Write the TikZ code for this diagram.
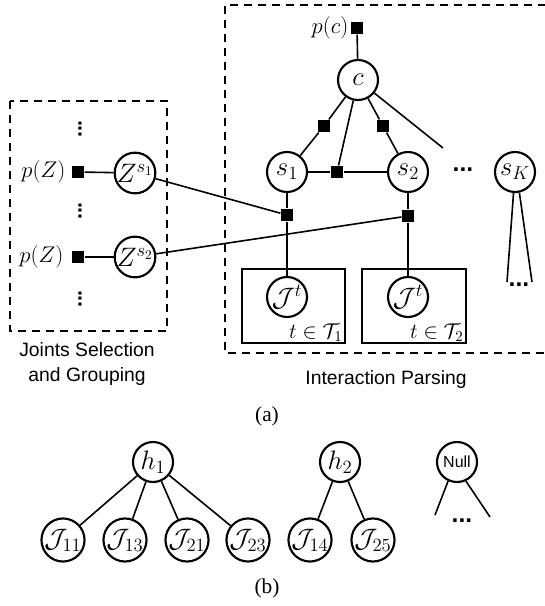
\RequirePackage{fix-cm}
\documentclass[tikz,border=0pt]{standalone}
\usepackage{fontspec}
\newfontfamily\sansf{Liberation Sans}
\newfontfamily\capf{Liberation Serif}
\newcommand\mfont{\fontsize{17}{20}\selectfont}
\newcommand\cfont{\fontsize{20}{23}\selectfont}
\newcommand\pfont{\fontsize{16}{19}\selectfont}
\newcommand\dotsfont{\sansf\bfseries\fontsize{18.5}{22}\selectfont}
\newcommand\vdotsfont{\sansf\bfseries\fontsize{16}{18}\selectfont}
\tikzset{
  var/.style={circle, draw, line width=1.6pt, minimum size=30pt, inner sep=0pt, font=\cfont},
  fac/.style={rectangle, fill=black, minimum size=9.5pt, inner sep=0pt},
  edge/.style={line width=1.2pt},
  dbox/.style={line width=1.2pt, dash pattern=on 6pt off 4.5pt},
  plate/.style={line width=1pt},
  lab/.style={font=\mfont, inner sep=1pt},
  sanslab/.style={font=\sansf\fontsize{14.5}{16}\selectfont, align=center, inner sep=0pt},
  caplab/.style={font=\capf\fontsize{16}{18}\selectfont, inner sep=0pt},
  dotsnode/.style={font=\dotsfont, inner sep=0pt},
  vdotsnode/.style={font=\vdotsfont, inner sep=0pt, rotate=90},
}
\begin{document}
\begin{tikzpicture}[x=0.75pt,y=-0.75pt]
\useasboundingbox (0,0) rectangle (544,606);
% dashed boxes
\draw[dbox] (10,101) rectangle (167,331);
\draw[dbox] (560,5) -- (225,5) -- (225,353) -- (560,353);
% plates
\draw[plate] (242,269) rectangle (345,343);
\draw[plate] (362,269) rectangle (466,343);
% left part
\node[vdotsnode] (vd1) at (80,129) {...};
\node[vdotsnode] (vd2) at (80,211) {...};
\node[vdotsnode] (vd3) at (80,299) {...};
\node[fac] (pz1) at (78,172) {};
\node[fac] (pz2) at (78,257) {};
\node[lab, anchor=east] (pzl1) at (67,172) {$p(Z)$};
\node[lab, anchor=east] (pzl2) at (65,257) {$p(Z)$};
\node[var] (Z1) at (135,173) {$Z^{s_1}$};
\node[var] (Z2) at (135,257) {$Z^{s_2}$};
% right part
\node[fac] (pc) at (357,28) {};
\node[lab, anchor=east] (pcl) at (350,28) {$p(c)$};
\node[var] (c) at (358,80) {$c$};
\node[var] (s1) at (287,172) {$s_1$};
\node[var] (s2) at (408,172) {$s_2$};
\node[var] (sK) at (515,172) {$s_K$};
\node[fac] (f1) at (324,126) {};
\node[fac] (f2) at (383,126) {};
\node[fac] (fm) at (337,172) {};
\node[fac] (fs1) at (287,215) {};
\node[fac] (fs2) at (408,216) {};
\coordinate (cend) at (443,148);
\node[dotsnode] (hd) at (463,170) {...};
\coordinate (ska) at (507,282);
\coordinate (skb) at (532,282);
\node[dotsnode] (skd) at (519,285) {...};
\node[var] (Jt1) at (287,297) {$\mathcal{J}^t$};
\node[var] (Jt2) at (408,297) {$\mathcal{J}^t$};
\node[font=\pfont, inner sep=1pt, anchor=south east] (t1) at (344,343) {$t\in\mathcal{T}_1$};
\node[font=\pfont, inner sep=1pt, anchor=south east] (t2) at (465,343) {$t\in\mathcal{T}_2$};
% edges
\draw[edge] (pc) -- (c);
\draw[edge] (c) -- (f1) -- (s1);
\draw[edge] (c) -- (f2) -- (s2);
\draw[edge] (c) -- (fm);
\draw[edge] (s1) -- (fm) -- (s2);
\draw[edge] (c) -- (cend);
\draw[edge] (s1) -- (fs1) -- (Jt1);
\draw[edge] (s2) -- (fs2) -- (Jt2);
\draw[edge] (pz1) -- (Z1);
\draw[edge] (pz2) -- (Z2);
\draw[edge] (Z1) -- (fs1);
\draw[edge] (Z2) -- (fs2);
\draw[edge] (sK.266) -- (ska);
\draw[edge] (sK.282) -- (skb);
% labels
\node[sanslab] (jsg) at (87,364) {Joints Selection\\[3pt]and Grouping};
\node[sanslab] (ip) at (386,379) {Interaction Parsing};
\node[caplab] (capa) at (267,416) {(a)};
% part (b)
\node[var] (h1) at (153,462) {$h_1$};
\node[var] (h2) at (340,462) {$h_2$};
\node[var, font=\sansf\fontsize{12}{14}\selectfont] (null) at (457,462) {Null};
\node[var] (j11) at (63,540) {$\mathcal{J}_{11}$};
\node[var] (j13) at (125,540) {$\mathcal{J}_{13}$};
\node[var] (j21) at (187,540) {$\mathcal{J}_{21}$};
\node[var] (j23) at (248,540) {$\mathcal{J}_{23}$};
\node[var] (j14) at (310,540) {$\mathcal{J}_{14}$};
\node[var] (j25) at (373,540) {$\mathcal{J}_{25}$};
\coordinate (na) at (435,515);
\coordinate (nb) at (490,517);
\node[dotsnode] (nd) at (462,521) {...};
\draw[edge] (h1) -- (j11);
\draw[edge] (h1) -- (j13);
\draw[edge] (h1) -- (j21);
\draw[edge] (h1) -- (j23);
\draw[edge] (h2) -- (j14);
\draw[edge] (h2) -- (j25);
\draw[edge] (null.245) -- (na);
\draw[edge] (null.295) -- (nb);
\node[caplab] (capb) at (267,588) {(b)};
\end{tikzpicture}
\end{document}
